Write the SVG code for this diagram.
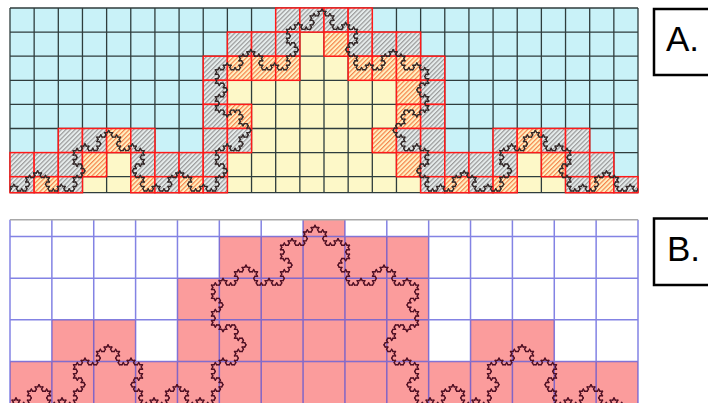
<svg xmlns="http://www.w3.org/2000/svg" xmlns:xlink="http://www.w3.org/1999/xlink" width="708" height="403" viewBox="0 0 708 403">
<style>
.y{fill:#fdf8c8}
.g{fill:url(#hg);stroke:#ff1a1a;stroke-width:1.5}
.o{fill:url(#ho);stroke:#ff1a1a;stroke-width:1.5}
.p{fill:#fb9c9c}
.gridA{fill:none;stroke:#2f3d3d;stroke-width:1.3}
.gridB{fill:none;stroke:#4f4fd8;stroke-width:1.5;stroke-opacity:.7}
.box{fill:#fff;stroke:#000;stroke-width:2.5}
.lbl{font-family:"Liberation Sans",Arial,sans-serif;font-size:35px;fill:#000}
</style>
<defs>
<pattern id="hg" patternUnits="userSpaceOnUse" width="3.2" height="3.2" patternTransform="rotate(45)">
<rect width="3.2" height="3.2" fill="#e6ecec"/><rect width="1.2" height="3.2" fill="#9a9a9a"/>
</pattern>
<pattern id="ho" patternUnits="userSpaceOnUse" width="3.2" height="3.2" patternTransform="rotate(45)">
<rect width="3.2" height="3.2" fill="#fff2c4"/><rect width="1.2" height="3.2" fill="#f5844c"/>
</pattern>
<clipPath id="clipA"><rect x="10" y="8" width="628" height="184.7"/></clipPath>
<clipPath id="clipB"><rect x="10" y="219.7" width="628" height="184"/></clipPath>
<path id="k0" d="M0 0H1" fill="none" vector-effect="non-scaling-stroke" stroke-linecap="round" stroke-linejoin="round"/>
<g id="k1"><use href="#k0" transform="scale(.333333)"/><use href="#k0" transform="translate(.333333 0) rotate(-60) scale(.333333)"/><use href="#k0" transform="translate(.5 -.288675) rotate(60) scale(.333333)"/><use href="#k0" transform="translate(.666667 0) scale(.333333)"/></g>
<g id="k2"><use href="#k1" transform="scale(.333333)"/><use href="#k1" transform="translate(.333333 0) rotate(-60) scale(.333333)"/><use href="#k1" transform="translate(.5 -.288675) rotate(60) scale(.333333)"/><use href="#k1" transform="translate(.666667 0) scale(.333333)"/></g>
<g id="k3"><use href="#k2" transform="scale(.333333)"/><use href="#k2" transform="translate(.333333 0) rotate(-60) scale(.333333)"/><use href="#k2" transform="translate(.5 -.288675) rotate(60) scale(.333333)"/><use href="#k2" transform="translate(.666667 0) scale(.333333)"/></g>
<g id="k4"><use href="#k3" transform="scale(.333333)"/><use href="#k3" transform="translate(.333333 0) rotate(-60) scale(.333333)"/><use href="#k3" transform="translate(.5 -.288675) rotate(60) scale(.333333)"/><use href="#k3" transform="translate(.666667 0) scale(.333333)"/></g>
<g id="k5"><use href="#k4" transform="scale(.333333)"/><use href="#k4" transform="translate(.333333 0) rotate(-60) scale(.333333)"/><use href="#k4" transform="translate(.5 -.288675) rotate(60) scale(.333333)"/><use href="#k4" transform="translate(.666667 0) scale(.333333)"/></g>
</defs>
<rect width="708" height="403" fill="#fff"/>

<g id="panelA">
<rect x="10" y="8" width="628" height="184.7" fill="#c9f2f8"/>
<g id="A-inside">
<rect class="y" x="299.85" y="32.1" width="24.15" height="24.1"/>
<rect class="y" x="299.85" y="56.2" width="48.3" height="24.1"/>
<rect class="y" x="227.38" y="80.3" width="169.08" height="24.1"/>
<rect class="y" x="251.54" y="104.4" width="144.92" height="24.1"/>
<rect class="y" x="251.54" y="128.5" width="120.77" height="24.1"/>
<rect class="y" x="106.62" y="152.6" width="24.15" height="24.1"/>
<rect class="y" x="227.38" y="152.6" width="169.08" height="24.1"/>
<rect class="y" x="517.23" y="152.6" width="24.15" height="24.1"/>
<rect class="y" x="82.46" y="176.7" width="48.31" height="16"/>
<rect class="y" x="227.38" y="176.7" width="193.24" height="16"/>
<rect class="y" x="517.23" y="176.7" width="48.31" height="16"/>
</g>
<path class="gridA" d="M10 8V192.7M34.15 8V192.7M58.31 8V192.7M82.46 8V192.7M106.62 8V192.7M130.77 8V192.7M154.92 8V192.7M179.08 8V192.7M203.23 8V192.7M227.38 8V192.7M251.54 8V192.7M275.69 8V192.7M299.85 8V192.7M324 8V192.7M348.15 8V192.7M372.31 8V192.7M396.46 8V192.7M420.62 8V192.7M444.77 8V192.7M468.92 8V192.7M493.08 8V192.7M517.23 8V192.7M541.38 8V192.7M565.54 8V192.7M589.69 8V192.7M613.85 8V192.7M638 8V192.7M10 8H638M10 32.1H638M10 56.2H638M10 80.3H638M10 104.4H638M10 128.5H638M10 152.6H638M10 176.7H638M10 192.7H638"/>
<g id="A-boundary">
<rect class="g" x="275.69" y="8" width="24.15" height="24.1"/>
<rect class="g" x="299.85" y="8" width="24.15" height="24.1"/>
<rect class="g" x="324" y="8" width="24.15" height="24.1"/>
<rect class="g" x="348.15" y="8" width="24.15" height="24.1"/>

<rect class="g" x="227.38" y="32.1" width="24.15" height="24.1"/>
<rect class="g" x="251.54" y="32.1" width="24.15" height="24.1"/>
<rect class="g" x="275.69" y="32.1" width="24.15" height="24.1"/>
<rect class="o" x="324" y="32.1" width="24.15" height="24.1"/>
<rect class="g" x="348.15" y="32.1" width="24.15" height="24.1"/>
<rect class="g" x="372.31" y="32.1" width="24.15" height="24.1"/>
<rect class="g" x="396.46" y="32.1" width="24.15" height="24.1"/>

<rect class="g" x="203.23" y="56.2" width="24.15" height="24.1"/>
<rect class="o" x="227.38" y="56.2" width="24.15" height="24.1"/>
<rect class="o" x="251.54" y="56.2" width="24.15" height="24.1"/>
<rect class="o" x="275.69" y="56.2" width="24.15" height="24.1"/>
<rect class="o" x="348.15" y="56.2" width="24.15" height="24.1"/>
<rect class="o" x="372.31" y="56.2" width="24.15" height="24.1"/>
<rect class="o" x="396.46" y="56.2" width="24.15" height="24.1"/>
<rect class="g" x="420.62" y="56.2" width="24.15" height="24.1"/>

<rect class="g" x="203.23" y="80.3" width="24.15" height="24.1"/>
<rect class="o" x="396.46" y="80.3" width="24.15" height="24.1"/>
<rect class="g" x="420.62" y="80.3" width="24.15" height="24.1"/>

<rect class="g" x="203.23" y="104.4" width="24.15" height="24.1"/>
<rect class="o" x="227.38" y="104.4" width="24.15" height="24.1"/>
<rect class="o" x="396.46" y="104.4" width="24.15" height="24.1"/>
<rect class="g" x="420.62" y="104.4" width="24.15" height="24.1"/>

<rect class="g" x="58.31" y="128.5" width="24.15" height="24.1"/>
<rect class="g" x="82.46" y="128.5" width="24.15" height="24.1"/>
<rect class="o" x="106.62" y="128.5" width="24.15" height="24.1"/>
<rect class="g" x="130.77" y="128.5" width="24.15" height="24.1"/>
<rect class="g" x="203.23" y="128.5" width="24.15" height="24.1"/>
<rect class="g" x="227.38" y="128.5" width="24.15" height="24.1"/>
<rect class="o" x="372.31" y="128.5" width="24.15" height="24.1"/>
<rect class="g" x="396.46" y="128.5" width="24.15" height="24.1"/>
<rect class="g" x="420.62" y="128.5" width="24.15" height="24.1"/>
<rect class="g" x="493.08" y="128.5" width="24.15" height="24.1"/>
<rect class="o" x="517.23" y="128.5" width="24.15" height="24.1"/>
<rect class="g" x="541.38" y="128.5" width="24.15" height="24.1"/>
<rect class="g" x="565.54" y="128.5" width="24.15" height="24.1"/>

<rect class="g" x="10" y="152.6" width="24.15" height="24.1"/>
<rect class="g" x="34.15" y="152.6" width="24.15" height="24.1"/>
<rect class="g" x="58.31" y="152.6" width="24.15" height="24.1"/>
<rect class="o" x="82.46" y="152.6" width="24.15" height="24.1"/>
<rect class="g" x="130.77" y="152.6" width="24.15" height="24.1"/>
<rect class="g" x="154.92" y="152.6" width="24.15" height="24.1"/>
<rect class="g" x="179.08" y="152.6" width="24.15" height="24.1"/>
<rect class="g" x="203.23" y="152.6" width="24.15" height="24.1"/>
<rect class="o" x="396.46" y="152.6" width="24.15" height="24.1"/>
<rect class="g" x="420.62" y="152.6" width="24.15" height="24.1"/>
<rect class="g" x="444.77" y="152.6" width="24.15" height="24.1"/>
<rect class="g" x="468.92" y="152.6" width="24.15" height="24.1"/>
<rect class="g" x="493.08" y="152.6" width="24.15" height="24.1"/>
<rect class="o" x="541.38" y="152.6" width="24.15" height="24.1"/>
<rect class="g" x="565.54" y="152.6" width="24.15" height="24.1"/>
<rect class="g" x="589.69" y="152.6" width="24.15" height="24.1"/>

<rect class="g" x="10" y="176.7" width="24.15" height="16"/>
<rect class="o" x="34.15" y="176.7" width="24.15" height="16"/>
<rect class="g" x="58.31" y="176.7" width="24.15" height="16"/>
<rect class="o" x="130.77" y="176.7" width="24.15" height="16"/>
<rect class="g" x="154.92" y="176.7" width="24.15" height="16"/>
<rect class="o" x="179.08" y="176.7" width="24.15" height="16"/>
<rect class="g" x="203.23" y="176.7" width="24.15" height="16"/>
<rect class="g" x="420.62" y="176.7" width="24.15" height="16"/>
<rect class="o" x="444.77" y="176.7" width="24.15" height="16"/>
<rect class="g" x="468.92" y="176.7" width="24.15" height="16"/>
<rect class="o" x="493.08" y="176.7" width="24.15" height="16"/>
<rect class="g" x="565.54" y="176.7" width="24.15" height="16"/>
<rect class="o" x="589.69" y="176.7" width="24.15" height="16"/>
<rect class="g" x="613.85" y="176.7" width="24.15" height="16"/>
</g>
<g clip-path="url(#clipA)">
<use href="#k5" transform="translate(2 191) scale(640 630)" stroke="#332828" stroke-width="1.4"/>
</g>
</g>

<g id="panelB">
<g id="B-cells">
<rect class="p" x="303.07" y="219.7" width="41.87" height="16.8"/>
<rect class="p" x="219.33" y="236.5" width="209.34" height="41.7"/>
<rect class="p" x="177.47" y="278.2" width="251.2" height="41.6"/>
<rect class="p" x="51.87" y="319.8" width="83.73" height="41.7"/>
<rect class="p" x="177.47" y="319.8" width="251.2" height="41.7"/>
<rect class="p" x="470.53" y="319.8" width="83.74" height="41.7"/>
<rect class="p" x="10" y="361.5" width="628" height="42"/>
</g>
<path class="gridB" d="M10 219.7V403M51.87 219.7V403M93.73 219.7V403M135.6 219.7V403M177.47 219.7V403M219.33 219.7V403M261.2 219.7V403M303.07 219.7V403M344.93 219.7V403M386.8 219.7V403M428.67 219.7V403M470.53 219.7V403M512.4 219.7V403M554.27 219.7V403M596.13 219.7V403M638 219.7V403M10 236.5H638M10 278.2H638M10 319.8H638M10 361.5H638"/>
<path d="M10 219.7H638" stroke="#a8a8a8" stroke-width="1.5" fill="none"/>
<g clip-path="url(#clipB)">
<use href="#k5" transform="translate(4.5 404.6) scale(621)" stroke="#501024" stroke-width="1.4"/>
</g>
</g>

<g id="labelA">
<rect class="box" x="654" y="9" width="60" height="66"/>
<text class="lbl" x="666" y="51">A.</text>
</g>
<g id="labelB">
<rect class="box" x="654" y="218.5" width="60" height="66.5"/>
<text class="lbl" x="667" y="261">B.</text>
</g>
</svg>
